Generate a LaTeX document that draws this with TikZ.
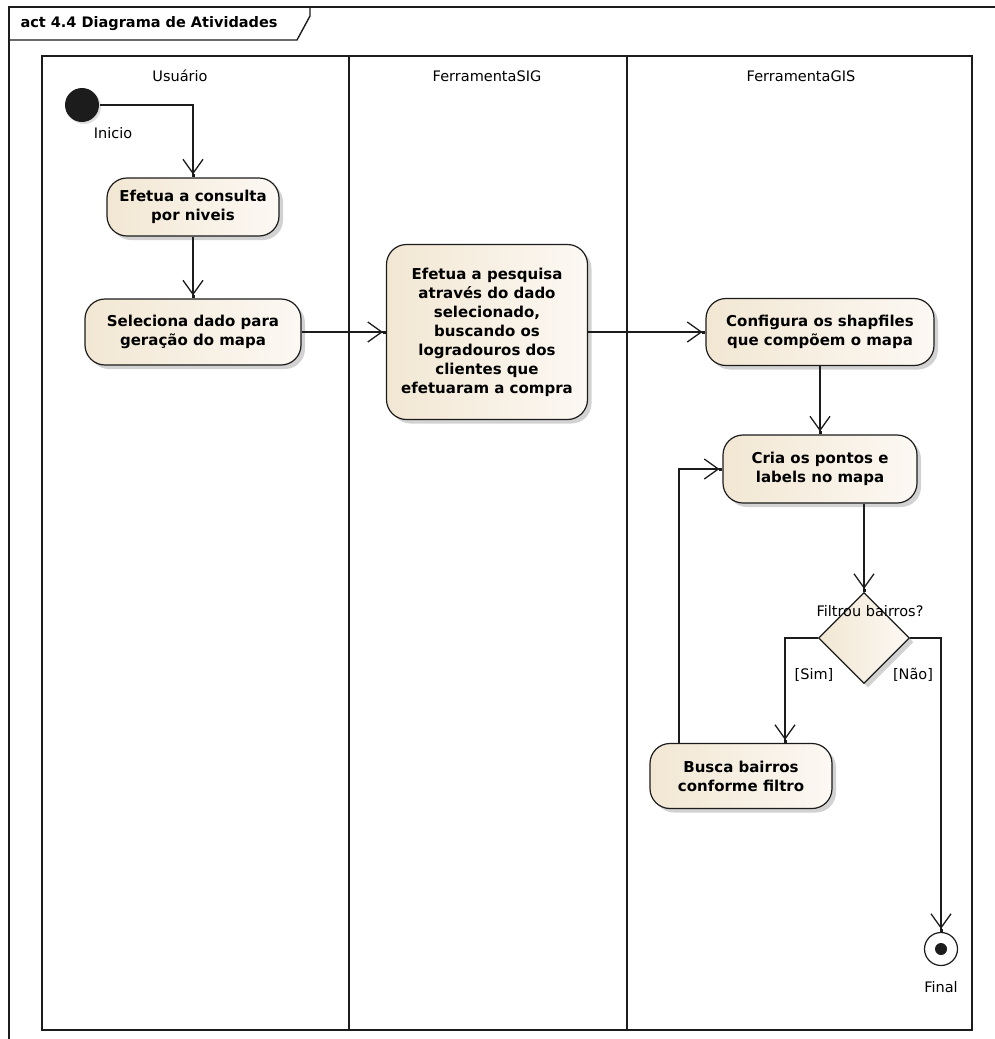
\documentclass[tikz,border=0pt]{standalone}
\usepackage{fontspec}
\setmainfont{DejaVu Sans}
\usepackage{tikz}
\usetikzlibrary{arrows.meta}
\usetikzlibrary{shapes.geometric}
\usetikzlibrary{shadows}

\definecolor{actbeige}{RGB}{242,231,211}
\definecolor{actcream}{RGB}{252,248,243}
\definecolor{lineink}{RGB}{28,28,28}

\begin{document}
\begin{tikzpicture}[x=1pt,y=-1pt]
\fill [white] (0,0) rectangle (995,1039);
\useasboundingbox (0,0) rectangle (995,1039);
% frame and swimlanes
\begin{scope}[draw=lineink,line width=1.4pt]
    \draw (995,7) -- (9,7) -- (9,1039);
    \draw (9,40) -- (297,40) -- (310,16) -- (310,7);
    \draw (42,56) rectangle (972,1030);
    \draw (349,56) -- (349,1030);
    \draw (627,56) -- (627,1030);
\end{scope}
\begin{scope}[every node/.style={font=\fontsize{14.5}{17}\selectfont}]
    \node [anchor=west,font=\fontsize{14.5}{17}\selectfont\bfseries] (titulo) at (17,24) {act 4.4 Diagrama de Atividades};
    \node (usuario) at (180.00, 76.00) {Usuário};
    \node (sig) at (487.00, 76.00) {FerramentaSIG};
    \node (gis) at (801.00, 76.00) {FerramentaGIS};
\end{scope}
% actions
\begin{scope}[every node/.style={rectangle,rounded corners=20pt,draw=lineink,line width=1.2pt,
              left color=actbeige,right color=actcream,
              drop shadow={shadow xshift=4pt,shadow yshift=-4pt,opacity=.35},
              align=center,inner sep=0pt,font=\fontsize{15}{19}\selectfont\bfseries}]
    \node [minimum width=172,minimum height=58] (consulta) at (193.00, 207.00) {Efetua a consulta\\por niveis};
    \node [minimum width=216,minimum height=66] (seleciona) at (193.00, 332.00) {Seleciona dado para\\geração do mapa};
    \node [minimum width=201,minimum height=175] (pesquisa) at (487.00, 332.00) {Efetua a pesquisa\\através do dado\\selecionado,\\buscando os\\logradouros dos\\clientes que\\efetuaram a compra};
    \node [minimum width=228,minimum height=67] (configura) at (820.00, 332.00) {Configura os shapfiles\\que compõem o mapa};
    \node [minimum width=194,minimum height=68] (cria) at (820.00, 469.00) {Cria os pontos e\\labels no mapa};
    \node [minimum width=182,minimum height=65] (busca) at (741.00, 776.00) {Busca bairros\\conforme filtro};
    \node [shape=diamond,rounded corners=0pt,aspect=1,minimum width=91,minimum height=91] (decisao) at (864.00, 638.00) {};
\end{scope}
\begin{scope}[every node/.style={circle,inner sep=0pt,line width=1.2pt}]
    \node [fill=lineink,minimum size=34,drop shadow={shadow xshift=2pt,shadow yshift=-2pt,opacity=.25}] (inicio) at (82.00, 105.00) {};
    \node [draw=lineink,fill=white,minimum size=33,
           path picture={\fill [lineink] (path picture bounding box.center) circle (6pt);}] (final) at (941.00, 949.00) {};
\end{scope}
% labels
\begin{scope}[every node/.style={font=\fontsize{14.5}{17}\selectfont}]
    \node (lbl_inicio) at (113.00, 133.00) {Inicio};
    \node (lbl_final) at (941.00, 987.00) {Final};
    \node (lbl_filtro) at (870.00, 611.00) {Filtrou bairros?};
    \node (lbl_sim) at (814.00, 675.00) {[Sim]};
    \node (lbl_nao) at (913.00, 675.00) {[Não]};
\end{scope}
% flows
\begin{scope}[>={Straight Barb[length=14pt,width=20pt] Square[length=3pt,width=3pt]},
              flow_edge/.style={draw=lineink,line width=1.3pt},
              hv_edge/.style={to path={-| (\tikztotarget) \tikztonodes}},
              vh_edge/.style={to path={|- (\tikztotarget) \tikztonodes}}]
    \path [->] (inicio) edge [flow_edge,hv_edge] (consulta);
    \path [->] (consulta) edge [flow_edge] (seleciona);
    \path [->] (seleciona) edge [flow_edge] (pesquisa);
    \path [->] (pesquisa) edge [flow_edge] (configura);
    \path [->] (configura) edge [flow_edge] (cria);
    \path [->] (decisao.north |- cria.south) edge [flow_edge] (decisao);
    \path [->] (decisao) edge [flow_edge,hv_edge] ([xshift=44pt]busca.north);
    \path [->] (decisao) edge [flow_edge,hv_edge] (final);
    \path [->] ([xshift=-62pt]busca.north) edge [flow_edge,vh_edge] (cria);
\end{scope}
\end{tikzpicture}
\end{document}
